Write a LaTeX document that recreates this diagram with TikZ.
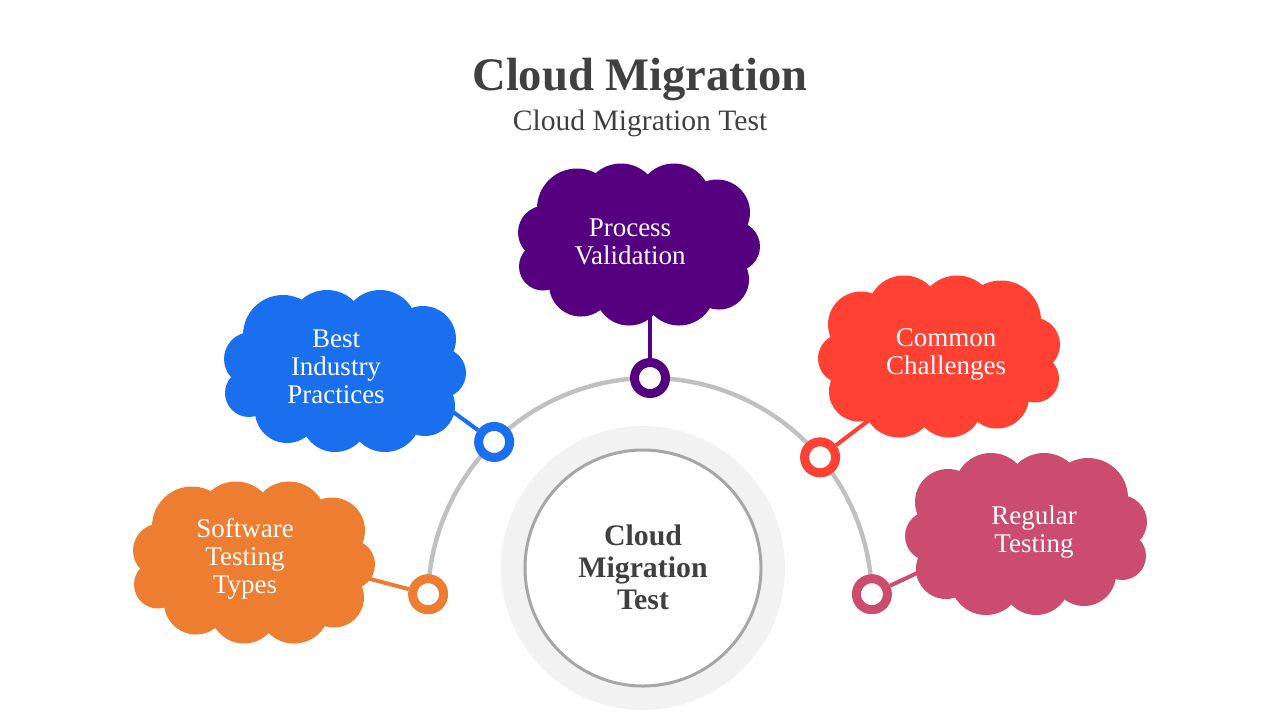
\documentclass[tikz,border=0pt]{standalone}
\usepackage{fontspec}
\setmainfont{Liberation Serif}
\definecolor{cpurple}{HTML}{55007F}
\definecolor{cblue}{HTML}{1A6FEE}
\definecolor{cred}{HTML}{FF4133}
\definecolor{corange}{HTML}{ED7D31}
\definecolor{cpink}{HTML}{CB4C6F}
\definecolor{dark}{HTML}{404040}
\definecolor{arcgray}{HTML}{C0C0C0}
\definecolor{disc}{HTML}{F2F2F2}
\definecolor{rimgray}{HTML}{A6A6A6}
\newcommand{\cloudshape}[4]{%
  \begin{scope}[shift={(#1,#2)}, xscale=#4]
    \fill[#3] (0,0) ellipse [x radius=90, y radius=58];
    \foreach \dx/\dy/\rr in {-62/-36/40, -18/-43/38, 35/-44/37, 78/-32/33, 96/2/25, 80/35/30, 40/45/36, -10/47/34, -58/40/32, -96/22/24, -94/-12/27}
      \fill[#3] (\dx,\dy) circle [radius=\rr];
  \end{scope}}
\tikzset{
  ring/.style={circle, draw=#1, fill=white, line width=4.5pt, minimum size=15.5pt, inner sep=0pt},
  conn/.style={draw=#1, line width=2pt},
  cloudtext/.style={text=white, align=center, font=\fontsize{13.5}{14}\selectfont},
}
\begin{document}
\begin{tikzpicture}[x=0.5pt, y=-0.5pt]
\useasboundingbox (0,0) rectangle (1280,720);
\fill[white] (0,0) rectangle (1280,720);
% titles
\node[text=dark, font=\fontsize{23.3}{26}\selectfont\bfseries] (title) at (640,79) {Cloud Migration};
\node[text=dark, font=\fontsize{14.8}{16}\selectfont] (subtitle) at (640,123) {Cloud Migration Test};
% arc
\draw[arcgray, line width=2.2pt] plot[domain=182:358, samples=120] ({650+222*cos(\x)}, {600+222*sin(\x)});
% center
\fill[disc] (643,568) circle [radius=142];
\draw[rimgray, fill=white, line width=1.5pt] (643,568) circle [radius=118];
\node[text=dark, align=center, font=\fontsize{14.9}{16}\selectfont\bfseries] (center) at (643,567) {Cloud\\Migration\\Test};
% rings
\node[ring=corange] (r1) at ({650+222*cos(181.5)}, {600+222*sin(181.5)}) {};
\node[ring=cblue]   (r2) at ({650+222*cos(225.4)}, {600+222*sin(225.4)}) {};
\node[ring=cpurple] (r3) at ({650+222*cos(270)}, {600+222*sin(270)}) {};
\node[ring=cred]    (r4) at ({650+222*cos(320)}, {600+222*sin(320)}) {};
\node[ring=cpink]   (r5) at ({650+222*cos(358.5)}, {600+222*sin(358.5)}) {};
% connector starts
\coordinate (c1) at (355,575);
\coordinate (c2) at (430,395);
\coordinate (c3) at (650,310);
\coordinate (c4) at (885,408);
\coordinate (c5) at (945,560);
\draw[conn=corange] (c1) -- (r1);
\draw[conn=cblue] (c2) -- (r2);
\draw[conn=cpurple] (c3) -- (r3);
\draw[conn=cred] (c4) -- (r4);
\draw[conn=cpink] (c5) -- (r5);
% clouds
\cloudshape{639}{244.5}{cpurple}{1}
\cloudshape{345}{371}{cblue}{1}
\cloudshape{939}{356.5}{cred}{-1}
\cloudshape{254}{562.5}{corange}{1}
\cloudshape{1026}{534}{cpink}{-1}
% cloud texts
\node[cloudtext] (t3) at (630,242) {Process\\Validation};
\node[cloudtext] (t2) at (336,367) {Best\\Industry\\Practices};
\node[cloudtext] (t4) at (946,354) {Common\\Challenges};
\node[cloudtext] (t1) at (245,559) {Software\\Testing\\Types};
\node[cloudtext] (t5) at (1034,532) {Regular\\Testing};
\end{tikzpicture}
\end{document}
